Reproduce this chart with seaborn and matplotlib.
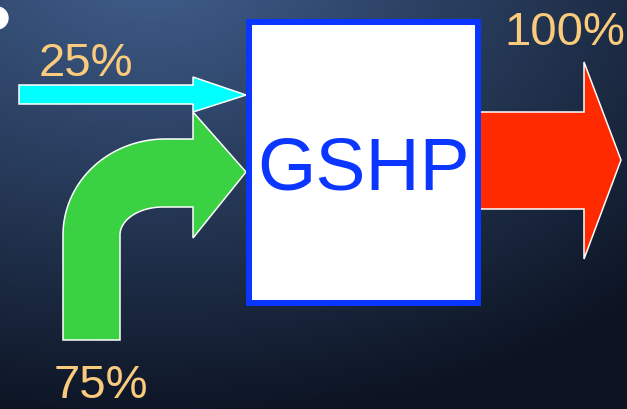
import numpy as np
import matplotlib
matplotlib.use('Agg')
import matplotlib.pyplot as plt
from matplotlib.patches import Polygon, Rectangle, Circle
import seaborn as sns

# energy split of a ground source heat pump
sources = ['electricity', 'ground', 'output']
shares = [25, 75, 100]
label_colors = ['#FACB7C', '#FACB7C', '#FACB7C']
arrow_colors = ['#00FFFF', '#3AD142', '#FF2A00']
box_label = 'GSHP'

W, H = 627, 409

sns.set_theme(style='white')
plt.rcParams['font.family'] = ['Liberation Sans', 'DejaVu Sans']

fig = plt.figure(figsize=(W / 100, H / 100), dpi=100)
ax = fig.add_axes([0, 0, 1, 1])
ax.set_xlim(0, W)
ax.set_ylim(H, 0)
ax.axis('off')

# background gradient, lighter in the top left
yy, xx = np.mgrid[0:H, 0:W]
t = np.clip(np.sqrt(((xx - 150) / 700) ** 2 + ((yy + 30) / 450) ** 2), 0, 1)[..., None]
c0 = np.array([0.25, 0.37, 0.55])
c1 = np.array([0.05, 0.08, 0.14])
bg = c0 * (1 - t) + c1 * t
ax.imshow(bg, extent=(0, W, H, 0), aspect='auto', zorder=0)

ax.add_patch(Circle((-3, 18), 11, color='white', zorder=1))

edge = dict(edgecolor='white', linewidth=1.1, joinstyle='miter')

# green bent arrow
ang = np.linspace(np.pi, 1.5 * np.pi, 40)
outer = np.column_stack([165 + 102 * np.cos(ang), 235 + 96 * np.sin(ang)])
inner = np.column_stack([163 + 43 * np.cos(ang), 235 + 28 * np.sin(ang)])[::-1]
green = np.vstack([[[63, 340]], outer, [[193, 139], [193, 112], [246, 172], [193, 238], [193, 207]],
                   inner, [[120, 340]]])
ax.add_patch(Polygon(green, closed=True, facecolor=arrow_colors[1], zorder=2, **edge))

# cyan straight arrow
cyan = [[19, 85], [193, 85], [193, 77], [246, 95], [193, 112], [193, 104], [19, 104]]
ax.add_patch(Polygon(cyan, closed=True, facecolor=arrow_colors[0], zorder=3, **edge))

# red output arrow
red = [[478, 112], [584, 112], [584, 62], [621, 160], [584, 259], [584, 209], [478, 209]]
ax.add_patch(Polygon(red, closed=True, facecolor=arrow_colors[2], zorder=2, **edge))

# heat pump box
ax.add_patch(Rectangle((249, 22), 229, 281, facecolor='white', edgecolor='#0A36FF',
                       linewidth=4.3, zorder=4))
ax.text(363.5, 189, box_label, color='#0A36FF', fontsize=54, ha='center', va='baseline', zorder=5)

label_pos = [(86, 76, 'baseline'), (101, 408.5, 'bottom'), (565, 45, 'baseline')]
for share, col, (x, y, va) in zip(shares, label_colors, label_pos):
    ax.text(x, y, f'{share}%', color=col, fontsize=34, ha='center', va=va, zorder=5)

fig.savefig('out.png', dpi=100)
